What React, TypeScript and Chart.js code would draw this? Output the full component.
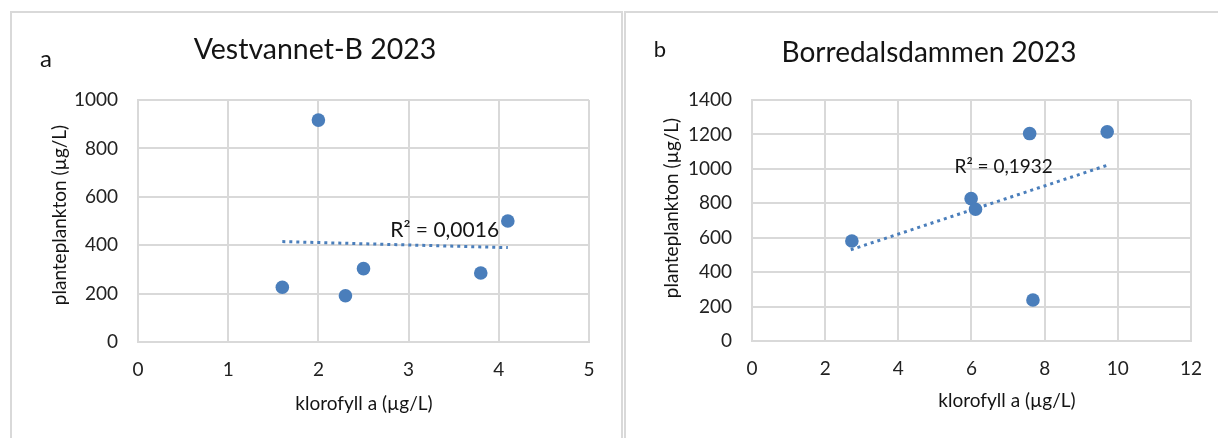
import React, { useEffect, useRef } from 'react';
import { Chart, registerables } from 'chart.js';

Chart.register(...registerables);

const FONT = 'Lato, "Noto Sans", sans-serif';

// ---------- Panel a: Vestvannet-B 2023 ----------
const aLetter = 'a';
const aTitle = 'Vestvannet-B 2023';
const aKlorofyll = [1.6, 2.0, 2.3, 2.5, 3.8, 4.1];
const aPlankton = [226, 917, 191, 303, 285, 500];
const aTrendX = [1.6, 4.1];
const aTrendY = [415, 390];
const aR2Label = 'R² = 0,0016';
const aR2At = [3.4, 463];
const aXRange = [0, 5, 1];
const aYRange = [0, 1000, 200];

// ---------- Panel b: Borredalsdammen 2023 ----------
const bLetter = 'b';
const bTitle = 'Borredalsdammen 2023';
const bKlorofyll = [2.73, 5.99, 6.11, 7.59, 7.68, 9.71];
const bPlankton = [581, 827, 765, 1205, 238, 1215];
const bTrendX = [2.7, 9.7];
const bTrendY = [530, 1020];
const bR2Label = 'R² = 0,1932';
const bR2At = [6.88, 1011];
const bXRange = [0, 12, 2];
const bYRange = [0, 1400, 200];

const xAxisTitle = 'klorofyll a (µg/L)';
const yAxisTitle = 'planteplankton (µg/L)';

const BLUE = '#4a7ebb';
const GRID = '#d9d9d9';
const TEXT = '#141414';
const TICK = '#222';

const textPlugin = {
  id: 'panelText',
  afterDraw(chart: any, _args: any, o: any) {
    const ctx = chart.ctx as CanvasRenderingContext2D;
    ctx.save();
    ctx.fillStyle = TEXT;
    ctx.textAlign = 'center';
    // panel letter
    ctx.textBaseline = 'alphabetic';
    ctx.font = `${o.letterSize}px ${FONT}`;
    ctx.fillText(o.letter, o.letterPos[0], o.letterPos[1]);
    // title
    ctx.font = `${o.titleSize}px ${FONT}`;
    ctx.fillText(o.title, o.titlePos[0], o.titlePos[1]);
    // axis titles
    ctx.textBaseline = 'middle';
    ctx.font = `${o.axisSize}px ${FONT}`;
    ctx.fillText(xAxisTitle, o.xTitlePos[0], o.xTitlePos[1]);
    ctx.save();
    ctx.translate(o.yTitlePos[0], o.yTitlePos[1]);
    ctx.rotate(-Math.PI / 2);
    ctx.fillText(yAxisTitle, 0, 0);
    ctx.restore();
    // R² label
    const px = chart.scales.x.getPixelForValue(o.r2At[0]);
    const py = chart.scales.y.getPixelForValue(o.r2At[1]);
    ctx.font = `${o.r2Size}px ${FONT}`;
    ctx.fillText(o.r2, px, py);
    ctx.restore();
  },
};

function makeConfig(p: any): any {
  return {
    type: 'scatter',
    data: {
      datasets: [
        {
          label: 'data',
          data: p.xs.map((x: number, i: number) => ({ x, y: p.ys[i] })),
          backgroundColor: BLUE,
          borderColor: BLUE,
          borderWidth: 0,
          pointRadius: 6.8,
          order: 1,
        },
        {
          label: 'trend',
          type: 'line',
          data: p.tx.map((x: number, i: number) => ({ x, y: p.ty[i] })),
          borderColor: BLUE,
          borderWidth: 3,
          borderDash: [3, 4],
          pointRadius: 0,
          fill: false,
          order: 2,
        },
      ],
    },
    options: {
      responsive: false,
      animation: false,
      devicePixelRatio: 1,
      layout: { padding: { left: 0, top: p.top, right: p.right, bottom: 0 } },
      plugins: {
        legend: { display: false },
        tooltip: { enabled: false },
        panelText: p.text,
      },
      scales: {
        x: {
          type: 'linear',
          min: p.xr[0],
          max: p.xr[1],
          ticks: {
            stepSize: p.xr[2],
            padding: 16,
            color: TICK,
            font: { family: FONT, size: 19 },
            callback: (v: any) => String(v),
          },
          grid: { color: GRID, lineWidth: 2, drawTicks: false },
          border: { color: GRID, width: 2 },
          afterFit: (s: any) => { s.height = p.xh; },
        },
        y: {
          type: 'linear',
          min: p.yr[0],
          max: p.yr[1],
          ticks: {
            stepSize: p.yr[2],
            padding: 20,
            color: TICK,
            font: { family: FONT, size: 19 },
            callback: (v: any) => String(v),
          },
          grid: { color: GRID, lineWidth: 2, drawTicks: false },
          border: { color: GRID, width: 2 },
          afterFit: (s: any) => { s.width = p.yw; },
        },
      },
    },
    plugins: [textPlugin],
  };
}

function Panel(props: { cfg: any; width: number; left: number }) {
  const ref = useRef<HTMLCanvasElement>(null);
  useEffect(() => {
    if (!ref.current) return;
    const chart = new Chart(ref.current, makeConfig(props.cfg));
    return () => chart.destroy();
  }, []);
  return (
    <canvas
      ref={ref}
      width={props.width}
      height={438}
      style={{ position: 'absolute', left: props.left, top: 0, width: props.width, height: 438 }}
    />
  );
}

const cfgA = {
  xs: aKlorofyll, ys: aPlankton, tx: aTrendX, ty: aTrendY,
  xr: aXRange, yr: aYRange,
  top: 100, right: 34, yw: 138, xh: 96,
  text: {
    letter: aLetter, letterPos: [46, 67], letterSize: 24,
    title: aTitle, titlePos: [315, 59], titleSize: 28.5,
    xTitlePos: [364, 404], yTitlePos: [60, 215], axisSize: 19,
    r2: aR2Label, r2At: aR2At, r2Size: 21,
  },
};

const cfgB = {
  xs: bKlorofyll, ys: bPlankton, tx: bTrendX, ty: bTrendY,
  xr: bXRange, yr: bYRange,
  top: 100, right: 25, yw: 129, xh: 97,
  text: {
    letter: bLetter, letterPos: [37, 57], letterSize: 22,
    title: bTitle, titlePos: [306, 62], titleSize: 28,
    xTitlePos: [384, 401], yTitlePos: [49, 208], axisSize: 19,
    r2: bR2Label, r2At: bR2At, r2Size: 19,
  },
};

export default function App() {
  return (
    <div
      style={{
        position: 'fixed', left: 0, top: 0, width: 1218, height: 438,
        overflow: 'hidden', background: '#fff',
      }}
    >
      <div style={{ position: 'absolute', left: 10, top: 11, width: 613, height: 520, border: `2px solid ${GRID}`, boxSizing: 'border-box' }} />
      <div style={{ position: 'absolute', left: 624, top: 11, width: 700, height: 520, border: `2px solid ${GRID}`, boxSizing: 'border-box' }} />
      <Panel cfg={cfgA} width={623} left={0} />
      <Panel cfg={cfgB} width={595} left={623} />
    </div>
  );
}
